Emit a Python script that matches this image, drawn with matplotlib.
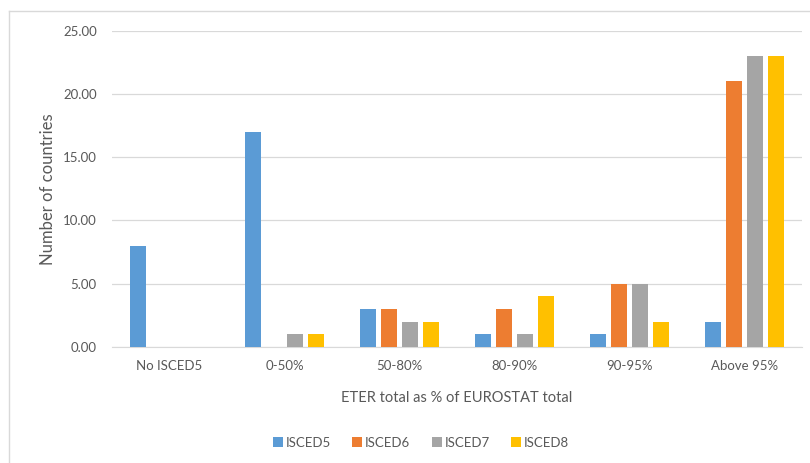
import matplotlib
matplotlib.use("Agg")
import matplotlib.pyplot as plt
import numpy as np
from matplotlib.lines import Line2D

# data
categories = ["No ISCED5", "0-50%", "50-80%", "80-90%", "90-95%", "Above 95%"]
series_names = ["ISCED5", "ISCED6", "ISCED7", "ISCED8"]
isced5 = [8, 17, 3, 1, 1, 2]
isced6 = [0, 0, 3, 3, 5, 21]
isced7 = [0, 1, 2, 1, 5, 23]
isced8 = [0, 1, 2, 4, 2, 23]
colors = ["#5B9BD5", "#ED7D31", "#A5A5A5", "#FFC000"]

plt.rcParams["font.family"] = ["Lato", "DejaVu Sans"]
text_col = "#595959"

fig = plt.figure(figsize=(8.1, 4.63), dpi=100)
ax = fig.add_axes([112 / 810, 1 - 347 / 463, 690 / 810, (347 - 30.7) / 463])

x = np.arange(len(categories))
step = 0.183
width = 0.14
for i, (vals, col) in enumerate(zip([isced5, isced6, isced7, isced8], colors)):
    ax.bar(x + (i - 1.5) * step, vals, width, color=col, zorder=3, linewidth=0)

ax.set_xlim(-0.5, len(categories) - 0.5)
ax.set_ylim(0, 25)
ax.set_yticks(np.arange(0, 26, 5))
ax.set_yticklabels([f"{v:.2f}" for v in np.arange(0, 26, 5)])
ax.set_xticks(x)
ax.set_xticklabels(categories)
ax.tick_params(axis="both", length=0, colors=text_col, labelsize=9.5)
ax.tick_params(axis="y", pad=11)
ax.tick_params(axis="x", pad=9)
ax.grid(axis="y", color="#D9D9D9", linewidth=0.9, zorder=0)
for s in ["left", "right", "top"]:
    ax.spines[s].set_visible(False)
ax.spines["bottom"].set_color("#D9D9D9")

ax.set_ylabel("Number of countries", color=text_col, fontsize=12, labelpad=5)
ax.set_xlabel("ETER total as % of EUROSTAT total", color=text_col, fontsize=10.5, labelpad=14)

handles = [Line2D([], [], marker="s", linestyle="none", markersize=7,
                  markerfacecolor=c, markeredgewidth=0) for c in colors]
fig.legend(handles, series_names, loc="center", bbox_to_anchor=(420 / 810, 1 - 443 / 463),
           ncol=4, frameon=False, fontsize=9.5, labelcolor=text_col,
           handletextpad=0.1, columnspacing=1.5, handlelength=1.0)

# light frame of the chart area (top and left edges only)
fig.add_artist(Line2D([9 / 810, 1], [1 - 11 / 463] * 2, color="#D9D9D9", linewidth=1,
                      transform=fig.transFigure))
fig.add_artist(Line2D([9 / 810] * 2, [0, 1 - 11 / 463], color="#D9D9D9", linewidth=1,
                      transform=fig.transFigure))

fig.savefig("out.png", dpi=100)
plt.close(fig)
